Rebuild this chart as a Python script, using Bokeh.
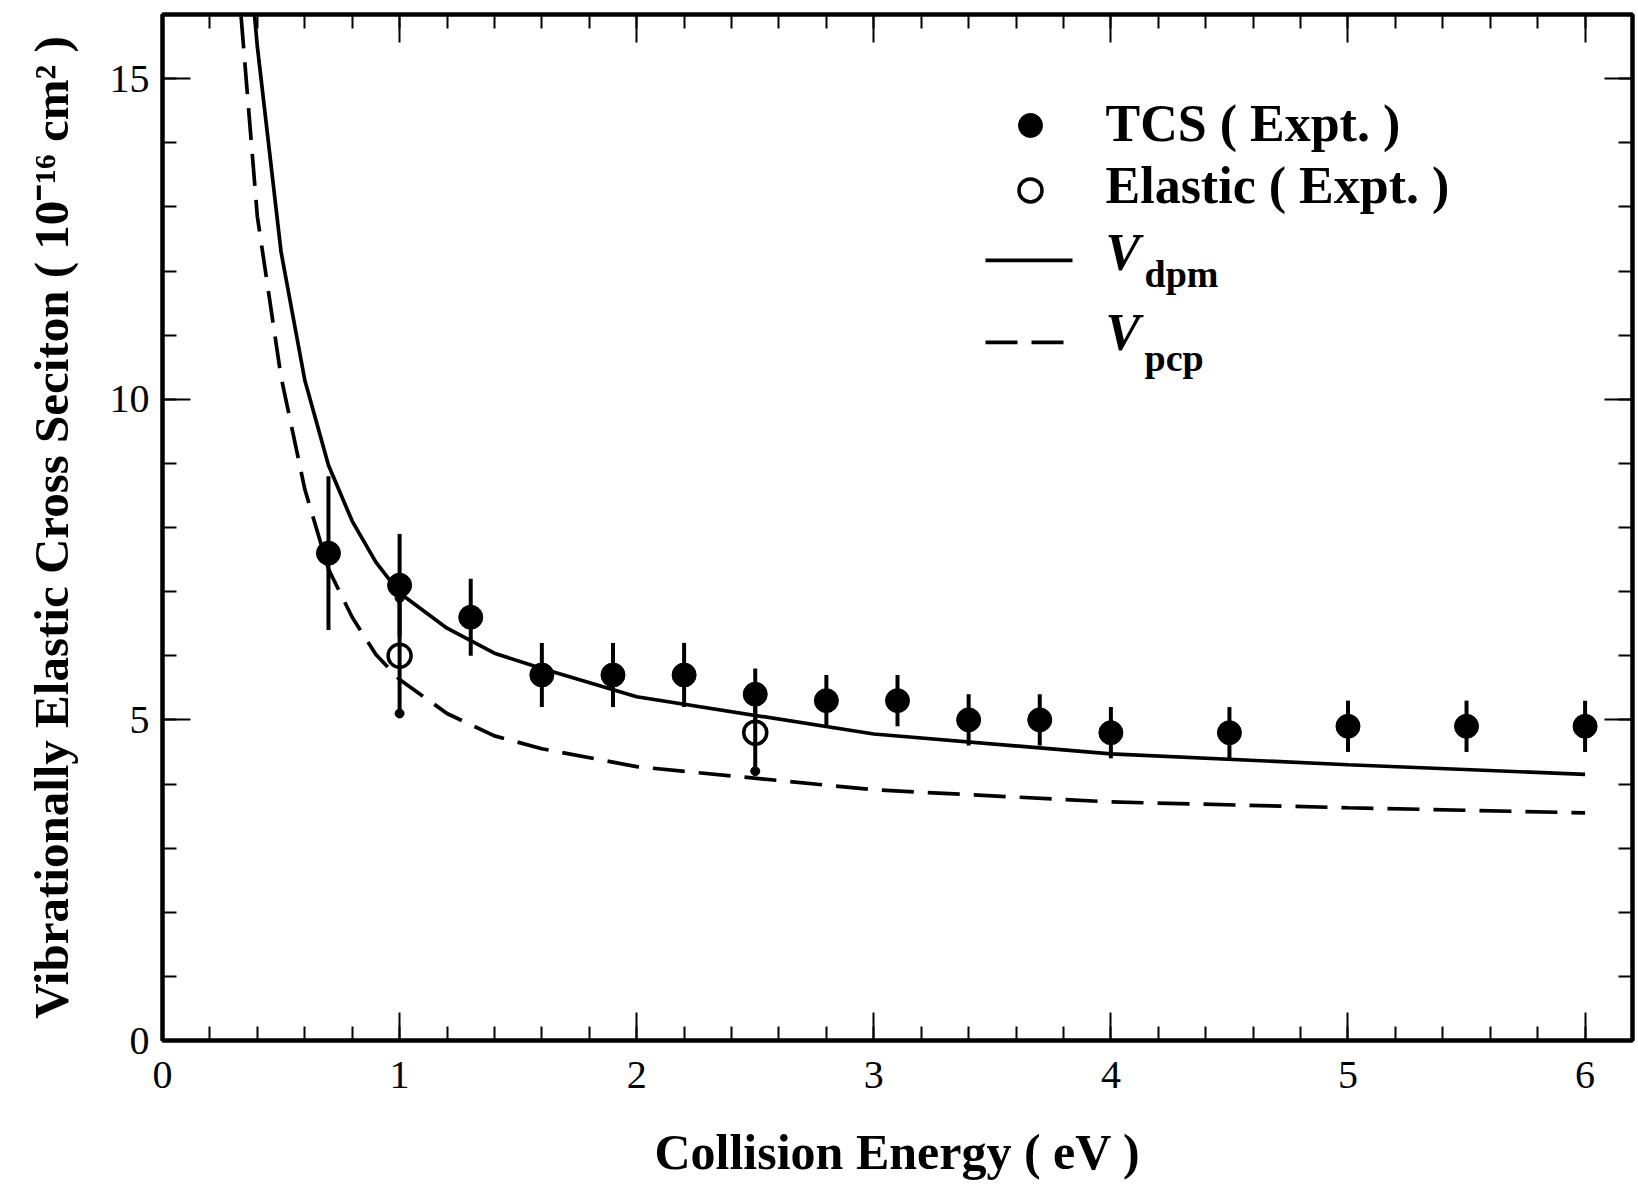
from bokeh.plotting import figure
from bokeh.models import (ColumnDataSource, LinearAxis, SingleIntervalTicker,
                          Range1d, CustomJSTickFormatter)
from bokeh.core.properties import value
from bokeh.embed import file_html
from bokeh.resources import INLINE

# ---------------- data ----------------
energy_tcs = [0.7, 1.0, 1.3, 1.6, 1.9, 2.2, 2.5, 2.8, 3.1, 3.4, 3.7, 4.0, 4.5, 5.0, 5.5, 6.0]
tcs = [7.6, 7.1, 6.6, 5.7, 5.7, 5.7, 5.4, 5.3, 5.3, 5.0, 5.0, 4.8, 4.8, 4.9, 4.9, 4.9]
tcs_err = [1.2, 0.8, 0.6, 0.5, 0.5, 0.5, 0.4, 0.4, 0.4, 0.4, 0.4, 0.4, 0.4, 0.4, 0.4, 0.4]

energy_el = [1.0, 2.5]
elastic = [6.0, 4.8]
elastic_err = [0.9, 0.6]

energy_dpm = [0.3, 0.4, 0.5, 0.6, 0.7, 0.8, 0.9, 1.0, 1.2, 1.4, 1.6, 2.0, 3.0, 4.0, 5.0, 6.0]
v_dpm = [19.6, 15.5, 12.3, 10.3, 8.97, 8.1, 7.46, 6.98, 6.43, 6.04, 5.8, 5.36, 4.78, 4.47, 4.3, 4.15]

energy_pcp = [0.3, 0.4, 0.5, 0.6, 0.7, 0.8, 0.9, 1.0, 1.2, 1.4, 1.6, 2.0, 3.0, 4.0, 5.0, 6.0]
v_pcp = [17.4, 12.85, 10.35, 8.6, 7.35, 6.6, 6.02, 5.63, 5.1, 4.75, 4.55, 4.27, 3.91, 3.72, 3.63, 3.55]

legend_labels = ["TCS ( Expt. )", "Elastic ( Expt. )"]
legend_v = ["V", "V"]
legend_sub = ["dpm", "pcp"]

x_title = "Collision Energy ( eV )"
y_title = "Vibrationally Elastic Cross Seciton ( 10\u207b\u00b9\u2076 cm\u00b2 )"

X_MAX, Y_MAX = 6.2, 16.0

# ---------------- figure ----------------
p = figure(width=1636, height=1185, x_range=Range1d(0, X_MAX), y_range=Range1d(0, Y_MAX),
           output_backend="svg", toolbar_location=None,
           min_border_left=162, min_border_right=4, min_border_top=14, min_border_bottom=145,
           x_axis_label=x_title, y_axis_label=y_title)
p.xgrid.visible = False
p.ygrid.visible = False
p.outline_line_color = "black"
p.outline_line_width = 4
p.background_fill_color = "white"
p.border_fill_color = "white"

SERIF = "Liberation Serif"


def style_axis(ax, labels=True):
    ax.axis_line_width = 4
    ax.axis_line_color = "black"
    ax.major_tick_in = 28
    ax.major_tick_out = 0
    ax.minor_tick_in = 14
    ax.minor_tick_out = 0
    ax.major_tick_line_width = 2
    ax.minor_tick_line_width = 2
    ax.major_tick_line_color = "black"
    ax.minor_tick_line_color = "black"
    ax.major_label_text_font = SERIF
    ax.major_label_text_font_size = "40px"
    ax.major_label_text_color = "black"
    ax.axis_label_text_font = SERIF
    ax.axis_label_text_font_style = "bold"
    ax.axis_label_text_font_size = "49px"
    ax.axis_label_text_color = "black"
    if not labels:
        ax.formatter = CustomJSTickFormatter(code="return ''")
        ax.major_label_text_font_size = "1px"
        ax.major_label_standoff = 0


xb = p.xaxis[0]
xb.ticker = SingleIntervalTicker(interval=1, num_minor_ticks=5)
style_axis(xb)
xb.axis_label_text_font_size = "50px"
xb.major_label_standoff = 21
xb.axis_label_standoff = 33

yl = p.yaxis[0]
yl.ticker = SingleIntervalTicker(interval=5, num_minor_ticks=5)
style_axis(yl)
yl.major_label_standoff = 13
yl.axis_label_standoff = 28

xt = LinearAxis(ticker=SingleIntervalTicker(interval=1, num_minor_ticks=5))
style_axis(xt, labels=False)
p.add_layout(xt, "above")

yr = LinearAxis(ticker=SingleIntervalTicker(interval=5, num_minor_ticks=5))
style_axis(yr, labels=False)
p.add_layout(yr, "right")

# ---------------- curves ----------------
p.line(energy_dpm, v_dpm, line_color="black", line_width=3.7)
p.line(energy_pcp, v_pcp, line_color="black", line_width=3.7, line_dash="32 14")

# ---------------- error bars ----------------
tcs_src = ColumnDataSource(dict(
    x=energy_tcs, y=tcs,
    lo=[v - e for v, e in zip(tcs, tcs_err)],
    hi=[v + e for v, e in zip(tcs, tcs_err)]))
el_src = ColumnDataSource(dict(
    x=energy_el, y=elastic,
    lo=[v - e for v, e in zip(elastic, elastic_err)],
    hi=[v + e for v, e in zip(elastic, elastic_err)]))

p.segment(x0="x", y0="lo", x1="x", y1="hi", source=tcs_src, line_color="black", line_width=4)
p.segment(x0="x", y0="lo", x1="x", y1="hi", source=el_src, line_color="black", line_width=4)
p.scatter(x="x", y="lo", source=el_src, size=9, marker="circle", fill_color="black", line_color="black")
p.scatter(x="x", y="hi", source=el_src, size=9, marker="circle", fill_color="black", line_color="black")

# ---------------- markers ----------------
p.scatter(x="x", y="y", source=tcs_src, size=24, marker="circle",
          fill_color="black", line_color="black")
p.scatter(x="x", y="y", source=el_src, size=23, marker="circle",
          fill_color=None, line_color="black", line_width=3.5)

# ---------------- legend (positions as fractions of the frame) ----------------
FRAME_W, FRAME_H = 1470.0, 1026.4


def fx(px):
    return px / FRAME_W * X_MAX


def fy(px):
    return Y_MAX - px / FRAME_H * Y_MAX


sym_x = fx(868)
text_x = fx(943)
sub_x = fx(982)
line_x0, line_x1 = fx(823), fx(910)

p.scatter([sym_x], [fy(111)], size=24, marker="circle", fill_color="black", line_color="black")
p.scatter([sym_x], [fy(176)], size=23, marker="circle", fill_color=None,
          line_color="black", line_width=3.5)
p.line([line_x0, line_x1], [fy(246), fy(246)], line_color="black", line_width=3.7)
p.line([line_x0, line_x1], [fy(328), fy(328)], line_color="black", line_width=3.7,
       line_dash="32 14")

p.text(x=[text_x, text_x], y=[fy(109), fy(171)], text=legend_labels,
       text_font=value(SERIF), text_font_style="bold", text_font_size="52px",
       text_baseline="alphabetic", text_align="left", text_color="black")
p.text(x=[text_x, text_x], y=[fy(238), fy(318)], text=legend_v,
       text_font=value(SERIF), text_font_style="bold italic", text_font_size="52px",
       text_baseline="alphabetic", text_align="left", text_color="black")
p.text(x=[sub_x, sub_x], y=[fy(260), fy(344)], text=legend_sub,
       text_font=value(SERIF), text_font_style="bold", text_font_size="38px",
       text_baseline="alphabetic", text_align="left", text_color="black")

open("out.html", "w").write(file_html(p, INLINE))
